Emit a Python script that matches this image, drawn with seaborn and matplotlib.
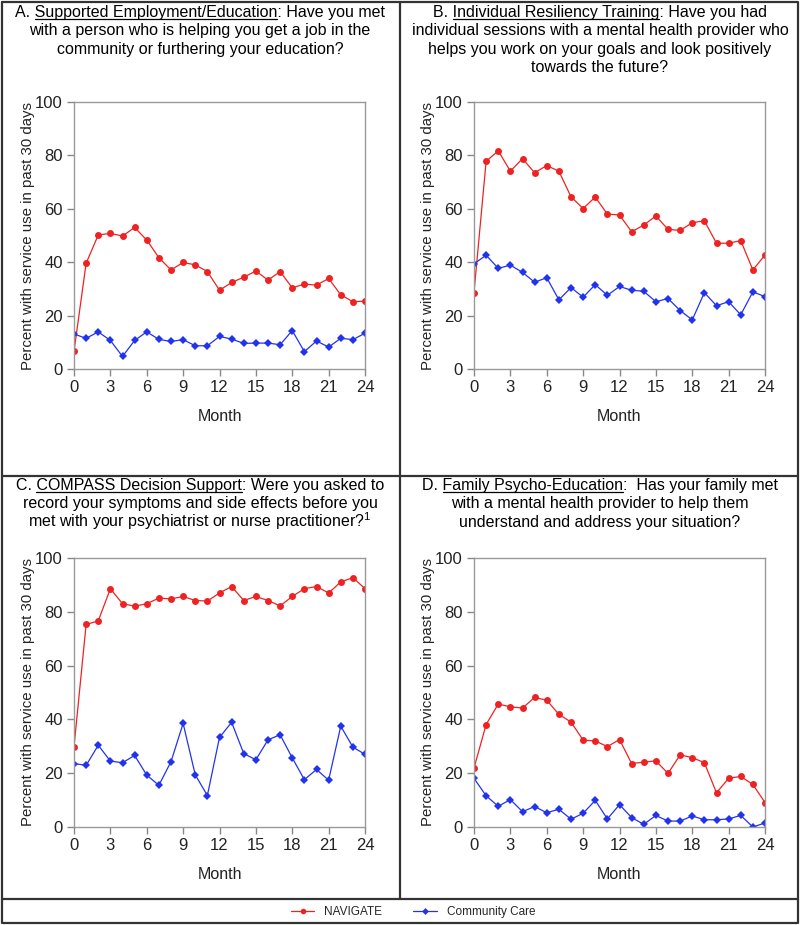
import pandas as pd
import matplotlib.pyplot as plt
import seaborn as sns
from matplotlib.lines import Line2D

# Data
months = list(range(25))

nav_a = [6.6, 39.6, 50.2, 50.8, 49.8, 53.0, 48.3, 41.7, 37.1, 39.9, 39.0, 36.5, 29.5,
         32.4, 34.4, 36.7, 33.3, 36.5, 30.4, 31.8, 31.4, 33.9, 27.8, 25.2, 25.4]
cc_a = [13.1, 11.5, 13.9, 10.7, 4.7, 10.7, 13.9, 11.1, 10.3, 11.0, 8.7, 8.7, 12.2,
        11.2, 9.6, 9.7, 9.7, 9.1, 14.4, 6.5, 10.5, 8.2, 11.5, 11.0, 13.4]

nav_b = [28.6, 77.8, 81.7, 74.1, 78.8, 73.5, 76.2, 74.1, 64.5, 60.1, 64.4, 58.0, 57.7,
         51.4, 53.9, 57.3, 52.3, 51.9, 54.8, 55.5, 47.1, 47.1, 48.1, 37.1, 42.7]
cc_b = [39.4, 42.6, 37.7, 38.9, 36.2, 32.5, 34.2, 25.9, 30.5, 26.9, 31.6, 27.6, 30.9,
        29.5, 29.1, 25.2, 26.4, 21.9, 18.4, 28.6, 23.7, 25.2, 20.3, 28.9, 27.1]

nav_c = [29.8, 75.3, 76.6, 88.6, 83.0, 82.1, 83.0, 85.1, 84.8, 85.7, 84.2, 84.0, 87.0,
         89.4, 84.2, 85.7, 84.2, 82.2, 85.7, 88.6, 89.4, 87.0, 91.1, 92.7, 88.6]
cc_c = [23.6, 22.9, 30.4, 24.5, 23.9, 26.6, 19.3, 15.5, 24.3, 38.5, 19.4, 11.7, 33.3,
        38.9, 27.3, 25.0, 32.4, 34.3, 25.7, 17.6, 21.4, 17.4, 37.5, 29.7, 27.0]

nav_d = [21.9, 38.1, 45.7, 44.7, 44.2, 48.2, 47.1, 41.9, 39.0, 32.3, 32.0, 29.9, 32.5,
         23.6, 24.1, 24.6, 19.9, 26.8, 25.8, 23.9, 12.7, 18.1, 18.8, 15.8, 9.1]
cc_d = [18.1, 11.6, 7.7, 10.2, 5.7, 7.6, 5.3, 6.6, 2.9, 5.1, 9.9, 3.0, 8.3,
        3.5, 1.0, 4.3, 2.2, 2.2, 4.1, 2.7, 2.7, 3.0, 4.3, 0.0, 1.5]

groups = ["NAVIGATE", "Community Care"]
panel_letters = ["A.", "B.", "C.", "D."]
panel_names = ["Supported Employment/Education", "Individual Resiliency Training",
               "COMPASS Decision Support", "Family Psycho-Education"]
# each title: rest of first line, then the following lines
panel_rest = [
    [": Have you met", "with a person who is helping you get a job in the",
     "community or furthering your education?"],
    [": Have you had", "individual sessions with a mental health provider who",
     "helps you work on your goals and look positively", "towards the future?"],
    [": Were you asked to", "record your symptoms and side effects before you",
     "met with your psychiatrist or nurse practitioner?$^{1}$"],
    [":  Has your family met", "with a mental health provider to help them",
     "understand and address your situation?"],
]
nav_series = [nav_a, nav_b, nav_c, nav_d]
cc_series = [cc_a, cc_b, cc_c, cc_d]

red = "#ee2222"
blue = "#2233ee"

sns.set_style("white")
plt.rcParams['font.family'] = ['Liberation Sans', 'DejaVu Sans']
plt.rcParams['mathtext.fontset'] = 'custom'
plt.rcParams['mathtext.rm'] = 'Liberation Sans'
plt.rcParams['mathtext.default'] = 'regular'

W, H = 800, 925
fig = plt.figure(figsize=(W / 100, H / 100), dpi=100)

# axes boxes in pixels: left, top, right, bottom
boxes = [(74, 102, 365, 369), (474, 102, 765, 369),
         (74, 558, 365, 827), (474, 558, 765, 827)]
title_base = [17, 17, 490, 490]   # baseline of first title line
cell_centers = [200, 600, 200, 600]

title_fs = 11.5
line_h = 18.3

renderer = fig.canvas.get_renderer()
for i in range(4):
    l, t, r, b = boxes[i]
    ax = fig.add_axes([l / W, 1 - b / H, (r - l) / W, (b - t) / H])
    df = pd.DataFrame({
        "Month": months * 2,
        "Percent": nav_series[i] + cc_series[i],
        "Group": [groups[0]] * len(months) + [groups[1]] * len(months),
    })
    sns.lineplot(data=df, x="Month", y="Percent", hue="Group", style="Group",
                 palette={groups[0]: red, groups[1]: blue},
                 markers={groups[0]: "o", groups[1]: "D"}, dashes=False,
                 markersize=5, markeredgewidth=0, linewidth=0.9,
                 legend=False, ax=ax)
    # smaller diamonds for community care
    ax.lines[1].set_markersize(4.3)
    ax.set_xlim(0, 24)
    ax.set_ylim(0, 100)
    ax.set_xticks(range(0, 25, 3))
    ax.set_yticks(range(0, 101, 20))
    ax.set_xlabel("Month", fontsize=11.5, color="#222222", labelpad=10)
    ax.set_ylabel("Percent with service use in past 30 days", fontsize=10.8,
                  color="#222222", labelpad=0)
    ax.tick_params(axis="both", direction="out", length=5, width=1, color="#888888",
                   labelsize=12, labelcolor="#222222", bottom=True, left=True, pad=3)
    for s in ax.spines.values():
        s.set_color("#999999")
        s.set_linewidth(1)

    # title with underlined service name
    cx = cell_centers[i] / W
    rest = panel_rest[i]
    lines = [panel_letters[i] + " " + panel_names[i] + rest[0]] + rest[1:]
    for k, txt in enumerate(lines):
        y = 1 - (title_base[i] + k * line_h) / H
        tobj = fig.text(cx, y, txt, ha="center", va="baseline", fontsize=title_fs, color="black")
        if k == 0:
            full_w = tobj.get_window_extent(renderer).width
            tmp1 = fig.text(0, 0, panel_letters[i] + " ", fontsize=title_fs)
            tmp2 = fig.text(0, 0, panel_letters[i] + " " + panel_names[i], fontsize=title_fs)
            w1 = tmp1.get_window_extent(renderer).width
            w2 = tmp2.get_window_extent(renderer).width
            tmp1.remove()
            tmp2.remove()
            x0 = cx * W - full_w / 2
            uy = 1 - (title_base[i] + 2) / H
            fig.add_artist(Line2D([(x0 + w1) / W, (x0 + w2) / W], [uy, uy],
                                  color="black", linewidth=0.9))

# frame lines around the panels
lw = 1.6
col = "#333333"
fig.add_artist(Line2D([2 / W, 798 / W, 798 / W, 2 / W, 2 / W],
                      [1 - 2 / H, 1 - 2 / H, 1 - 923 / H, 1 - 923 / H, 1 - 2 / H],
                      color=col, linewidth=lw))
fig.add_artist(Line2D([2 / W, 798 / W], [1 - 476 / H, 1 - 476 / H], color=col, linewidth=lw))
fig.add_artist(Line2D([2 / W, 798 / W], [1 - 899 / H, 1 - 899 / H], color=col, linewidth=lw))
fig.add_artist(Line2D([400 / W, 400 / W], [1 - 2 / H, 1 - 899 / H], color=col, linewidth=lw))

# legend row
handles = [Line2D([], [], color=red, marker="o", markersize=4, markeredgewidth=0, linewidth=0.9),
           Line2D([], [], color=blue, marker="D", markersize=3.5, markeredgewidth=0, linewidth=0.9)]
fig.legend(handles, groups, loc="center", bbox_to_anchor=(413 / W, 1 - 912 / H),
           ncol=2, frameon=False, fontsize=8.5, handlelength=2.0, columnspacing=2.6,
           handletextpad=0.85)

fig.savefig("out.png", dpi=100)
